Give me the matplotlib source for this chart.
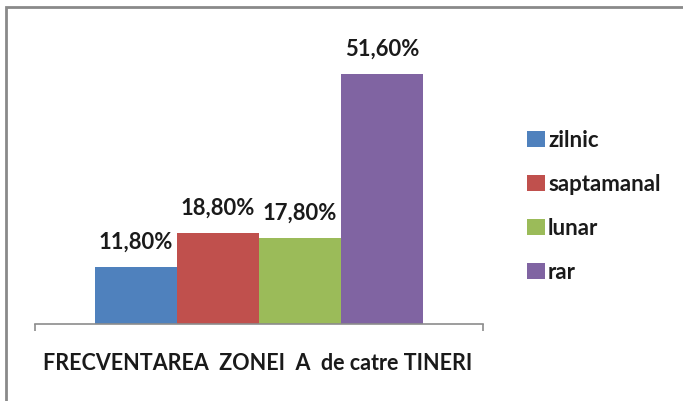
import matplotlib
matplotlib.use("Agg")
import matplotlib.pyplot as plt
from matplotlib.patches import Rectangle

categories = ["zilnic", "saptamanal", "lunar", "rar"]
values = [11.8, 18.8, 17.8, 51.6]
value_labels = ["11,80%", "18,80%", "17,80%", "51,60%"]
colors = ["#4F81BD", "#C0504D", "#9BBB59", "#8064A2"]
xlabel = "FRECVENTAREA  ZONEI  A  de catre TINERI"

plt.rcParams["font.family"] = ["Lato", "DejaVu Sans"]
plt.rcParams["font.weight"] = "bold"

W, H = 683, 401
fig = plt.figure(figsize=(W / 100, H / 100), dpi=100)
fig.patch.set_facecolor("white")

# plot area in pixel terms
ax_left, ax_right, ax_base = 35, 483, 324
ymax = 60.0
px_per_unit = 250 / 51.6
ax_h = ymax * px_per_unit
ax = fig.add_axes([ax_left / W, (H - ax_base) / H, (ax_right - ax_left) / W, ax_h / H])

group_w = 0.732
bar_w = group_w / len(values)
start = 0.5 - group_w / 2
for i, (cat, v, lab, c) in enumerate(zip(categories, values, value_labels, colors)):
    x = start + bar_w * (i + 0.5)
    ax.bar(x, v, width=bar_w, color=c, label=cat, edgecolor="none")
    ax.annotate(lab, (x, v), xytext=(0, 10), textcoords="offset points",
                ha="center", va="bottom", fontsize=15.8, fontweight="bold", color="#1a1a1a")

ax.set_xlim(0, 1)
ax.set_ylim(0, ymax)
for s in ["top", "right", "left"]:
    ax.spines[s].set_visible(False)
ax.spines["bottom"].set_color("#8c8c8c")
ax.spines["bottom"].set_linewidth(1.2)
ax.set_yticks([])
ax.set_xticks([0, 1])
ax.set_xticklabels(["", ""])
ax.tick_params(axis="x", direction="out", length=5, width=1.2, color="#8c8c8c")
ax.set_facecolor("none")

fig.text(258 / W, 1 - 363 / H, xlabel, ha="center", va="center",
         fontsize=15.5, fontweight="bold", color="#1a1a1a")

leg = fig.legend(loc="upper left", bbox_to_anchor=(518 / W, 1 - 121 / H),
                 frameon=False, fontsize=16, handlelength=0.8, handleheight=0.7,
                 handletextpad=0.15, labelspacing=1.03, borderaxespad=0)
for t in leg.get_texts():
    t.set_fontweight("bold")
    t.set_color("#1a1a1a")

# outer frame of the chart area
fig.patches.append(Rectangle((6 / W, -0.1), 1.2, 1 - 7 / H + 0.1, transform=fig.transFigure,
                             fill=False, edgecolor="#8a8a8a", linewidth=2))

fig.savefig("out.png", dpi=100, facecolor="white")
